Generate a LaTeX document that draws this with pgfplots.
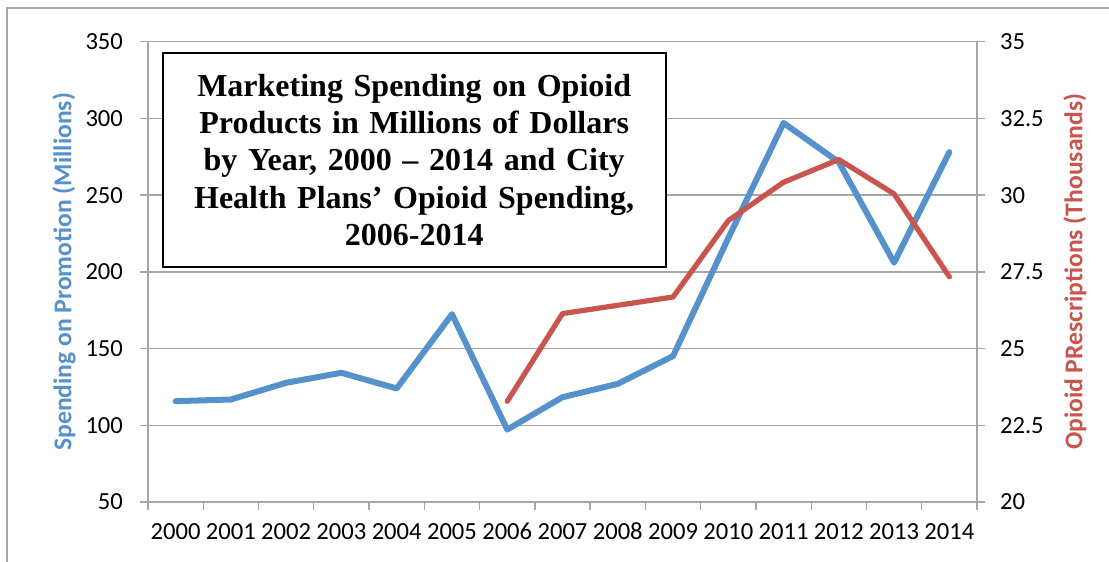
\documentclass[border=0pt]{standalone}
\usepackage{fontspec}
\setmainfont{Carlito}
\newfontfamily\titlefont{Liberation Serif}
\usepackage{pgfplots}
\pgfplotsset{compat=1.18}

\definecolor{promo}{HTML}{5591CB}
\definecolor{rx}{HTML}{C8554E}
\definecolor{gridgray}{HTML}{A6A6A6}

\begin{document}
\begin{tikzpicture}
  % page = reference frame, 1 px = 0.5 pt, origin at the plot's lower left corner
  \useasboundingbox (-74pt,-30pt) rectangle (480.5pt,251pt);
  \fill[white] (-74pt,-30pt) rectangle (480.5pt,251pt);
  \draw[gridgray, line width=0.6pt] (-70.5pt,-40pt) -- (-70.5pt,247pt) -- (490pt,247pt);

  \pgfplotsset{
    every axis/.append style={
      scale only axis,
      width=414.5pt, height=230.15pt,
      xmin=-0.5, xmax=14.5,
      tick align=outside,
      major tick length=4pt,
      tick style={gridgray, line width=0.7pt},
      axis line style={gridgray, line width=0.7pt},
      ticklabel style={font=\fontsize{12.3}{14}\selectfont, text=black},
      /pgf/number format/assume math mode=true,
    },
  }

  \begin{axis}[
    axis x line*=bottom,
    axis y line*=left,
    ymin=50, ymax=350,
    ytick={50,100,...,350},
    ymajorgrids,
    grid style={gridgray, line width=0.7pt},
    xtick={-0.5,0.5,...,14.5},
    xticklabels={2000,2001,2002,2003,2004,2005,2006,2007,2008,2009,2010,2011,2012,2013,2014},
    x tick label as interval,
    xticklabel style={yshift=-3pt, text height=8pt, text depth=0pt},
    yticklabel style={xshift=-5pt},
    ylabel={Spending on Promotion (Millions)},
    ylabel style={at={(axis description cs:-0.1013,0.5)}, anchor=center,
      font=\bfseries\fontsize{12.8}{15}\selectfont, text=promo},
  ]
    \addplot[promo, line width=3pt, line join=round, line cap=round] coordinates {
      (0,115.7) (1,116.8) (2,127.7) (3,134.2) (4,124.0) (5,172.4) (6,97.2)
      (7,118.3) (8,127.0) (9,145.1) (10,222.0) (11,297.0) (12,271.5)
      (13,206.0) (14,278.0)
    };
  \end{axis}

  \begin{axis}[
    axis x line=none,
    axis y line*=right,
    ymin=20, ymax=35,
    ytick={20,22.5,...,35},
    yticklabel style={xshift=4pt},
    ylabel={Opioid PRescriptions (Thousands)},
    ylabel style={at={(axis description cs:1.118,0.5)}, anchor=center,
      font=\bfseries\fontsize{12.8}{15}\selectfont, text=rx},
  ]
    \addplot[rx, line width=2.6pt, line join=round, line cap=round] coordinates {
      (6,23.28) (7,26.14) (8,26.41) (9,26.68) (10,29.17) (11,30.42)
      (12,31.16) (13,30.04) (14,27.34)
    };
  \end{axis}

  \node[draw=black, line width=1pt, fill=white, minimum width=247.5pt,
    minimum height=106.7pt, text width=245pt, align=center,
    font=\titlefont\bfseries\fontsize{16}{18.6}\selectfont] at (133.1pt,171pt)
    {Marketing Spending on Opioid\\ Products in Millions of Dollars\\
     by Year, 2000 \textendash{} 2014 and City\\ Health Plans’ Opioid Spending,\\ 2006-2014};
\end{tikzpicture}
\end{document}
